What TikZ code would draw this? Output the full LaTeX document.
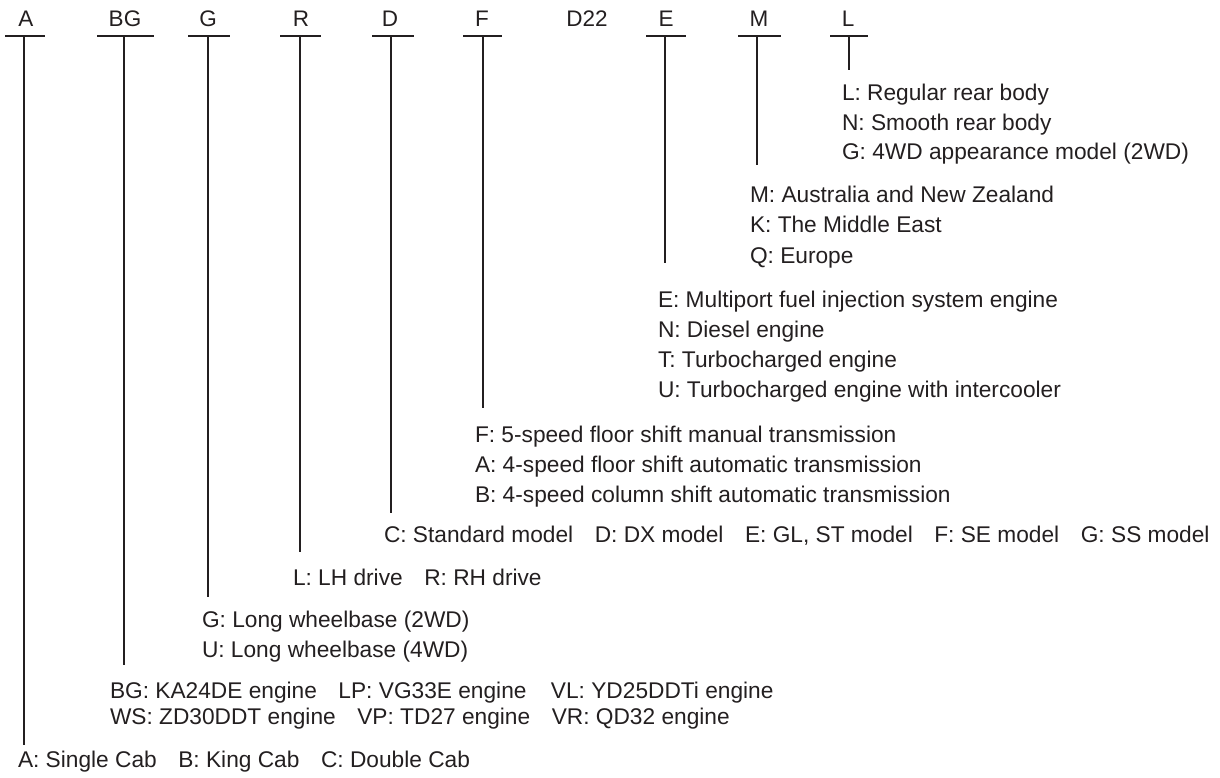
\documentclass[tikz,border=0pt]{standalone}
\usepackage{fontspec}
\setmainfont{Liberation Sans}
\definecolor{ink}{HTML}{231F20}
\newcommand{\sepgap}{\hspace{0.95em}}
\begin{document}
\begin{tikzpicture}[x=1pt,y=-1pt,
  lbl/.style={anchor=base west,inner sep=0,outer sep=0,font=\fontsize{22.7}{27}\selectfont,text=ink},
  hd/.style={anchor=base,inner sep=0,outer sep=0,font=\fontsize{22.5}{27}\selectfont,text=ink},
  bar/.style={line width=2.2pt,draw=ink},
  stem/.style={line width=1.3pt,draw=ink}]
\useasboundingbox (0,0) rectangle (1220,778);

% header letters
\node[hd] (hA)  at (26,27)  {A};
\node[hd] (hBG) at (125,27) {BG};
\node[hd] (hG)  at (208,27) {G};
\node[hd] (hR)  at (301,27) {R};
\node[hd] (hD)  at (390,27) {D};
\node[hd] (hF)  at (482,27) {F};
\node[hd] (hD22) at (587,27) {D22};
\node[hd] (hE)  at (666,27) {E};
\node[hd] (hM)  at (759,27) {M};
\node[hd] (hL)  at (848,27) {L};

% bars
\coordinate (bA1) at (5,36);   \coordinate (bA2) at (45,36);
\coordinate (bBG1) at (97,36); \coordinate (bBG2) at (154,36);
\coordinate (bG1) at (188,36); \coordinate (bG2) at (230,36);
\coordinate (bR1) at (280,36); \coordinate (bR2) at (321,36);
\coordinate (bD1) at (372,36); \coordinate (bD2) at (414,36);
\coordinate (bF1) at (463,36); \coordinate (bF2) at (502,36);
\coordinate (bE1) at (646,36); \coordinate (bE2) at (686,36);
\coordinate (bM1) at (738,36); \coordinate (bM2) at (781,36);
\coordinate (bL1) at (830,36); \coordinate (bL2) at (868,36);
\foreach \k in {A,BG,G,R,D,F,E,M,L}{\draw[bar] (b\k1) -- (b\k2);}

% stems
\coordinate (sA) at (24,36);   \coordinate (eA) at (24,745);
\coordinate (sBG) at (124,36); \coordinate (eBG) at (124,665);
\coordinate (sG) at (208,36);  \coordinate (eG) at (208,597);
\coordinate (sR) at (300,36);  \coordinate (eR) at (300,552);
\coordinate (sD) at (391,36);  \coordinate (eD) at (391,513);
\coordinate (sF) at (483,36);  \coordinate (eF) at (483,408);
\coordinate (sE) at (665,36);  \coordinate (eE) at (665,263);
\coordinate (sM) at (757,36);  \coordinate (eM) at (757,165);
\coordinate (sL) at (849,36);  \coordinate (eL) at (849,70);
\foreach \k in {A,BG,G,R,D,F,E,M,L}{\draw[stem] (s\k) -- (e\k);}

% L group
\node[lbl] (tL1) at (842,101) {L: Regular rear body};
\node[lbl] (tL2) at (842,131) {N: Smooth rear body};
\node[lbl] (tL3) at (842,160) {G: 4WD appearance model (2WD)};
% M group
\node[lbl] (tM1) at (750,203) {M: Australia and New Zealand};
\node[lbl] (tM2) at (750,233) {K: The Middle East};
\node[lbl] (tM3) at (750,263) {Q: Europe};
% E group
\node[lbl] (tE1) at (658,307) {E: Multiport fuel injection system engine};
\node[lbl] (tE2) at (658,337) {N: Diesel engine};
\node[lbl] (tE3) at (658,367) {T: Turbocharged engine};
\node[lbl] (tE4) at (658,397) {U: Turbocharged engine with intercooler};
% F group
\node[lbl] (tF1) at (475,442) {F: 5-speed floor shift manual transmission};
\node[lbl] (tF2) at (475,472) {A: 4-speed floor shift automatic transmission};
\node[lbl] (tF3) at (475,502) {B: 4-speed column shift automatic transmission};
% D group
\node[lbl] (tD1) at (384,542) {C: Standard model\sepgap D: DX model\sepgap E: GL, ST model\sepgap F: SE model\sepgap G: SS model};
% R group
\node[lbl] (tR1) at (293,585) {L: LH drive\sepgap R: RH drive};
% G group
\node[lbl] (tG1) at (202,627) {G: Long wheelbase (2WD)};
\node[lbl] (tG2) at (202,657) {U: Long wheelbase (4WD)};
% BG group
\node[lbl] (tB1) at (110,698) {BG: KA24DE engine\sepgap LP: VG33E engine\hspace{0.8em} VL: YD25DDTi engine};
\node[lbl] (tB2) at (110,724) {WS: ZD30DDT engine\sepgap VP: TD27 engine\sepgap VR: QD32 engine};
% A group
\node[lbl] (tA1) at (18,767) {A: Single Cab\sepgap B: King Cab\sepgap C: Double Cab};
\end{tikzpicture}
\end{document}
